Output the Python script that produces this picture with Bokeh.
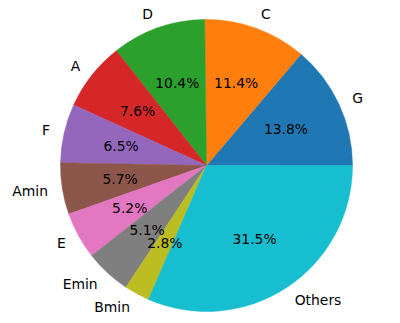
import numpy as np
import pandas as pd
from bokeh.plotting import figure
from bokeh.models import Range1d, ColumnDataSource
from bokeh.core.properties import value
from bokeh.embed import file_html
from bokeh.resources import INLINE

labels = ["G", "C", "D", "A", "F", "Amin", "E", "Emin", "Bmin", "Others"]
shares = [13.8, 11.4, 10.4, 7.6, 6.5, 5.7, 5.2, 5.1, 2.8, 31.5]
colors = ["#1f77b4", "#ff7f0e", "#2ca02c", "#d62728", "#9467bd",
          "#8c564b", "#e377c2", "#7f7f7f", "#bcbd22", "#17becf"]

df = pd.DataFrame({"label": labels, "share": shares, "color": colors})
frac = df["share"] / df["share"].sum()
ends = 2 * np.pi * frac.cumsum()
starts = ends - 2 * np.pi * frac
mid = (starts + ends) / 2
df["start"] = starts
df["end"] = ends
df["lx"] = 1.1 * np.cos(mid)
df["ly"] = 1.1 * np.sin(mid)
df["px"] = 0.6 * np.cos(mid)
df["py"] = 0.6 * np.sin(mid)
df["align"] = np.where(np.cos(mid) >= 0, "left", "right")
df["pct"] = [f"{s:.1f}%" for s in df["share"]]
src = ColumnDataSource(df)

W, H = 392, 315
R = 146.0
cx, cy = 206.0, 165.0
p = figure(width=W, height=H, output_backend="svg", toolbar_location=None,
           x_range=Range1d(-cx / R, (W - cx) / R),
           y_range=Range1d(-(H - cy) / R, cy / R),
           min_border=0, outline_line_color=None)
p.axis.visible = False
p.grid.visible = False
p.background_fill_color = "white"
p.border_fill_color = "white"

p.wedge(x=0, y=0, radius=1.0, start_angle="start", end_angle="end",
        fill_color="color", line_color="color", line_width=0.5, source=src)
p.text(x="lx", y="ly", text="label", text_align="align", text_baseline="middle",
       text_font=value("DejaVu Sans"), text_font_size="13.9px",
       text_color="black", source=src)
p.text(x="px", y="py", text="pct", text_align="center", text_baseline="middle",
       text_font=value("DejaVu Sans"), text_font_size="13.9px",
       text_color="black", source=src)

open("out.html", "w").write(file_html(p, INLINE))
